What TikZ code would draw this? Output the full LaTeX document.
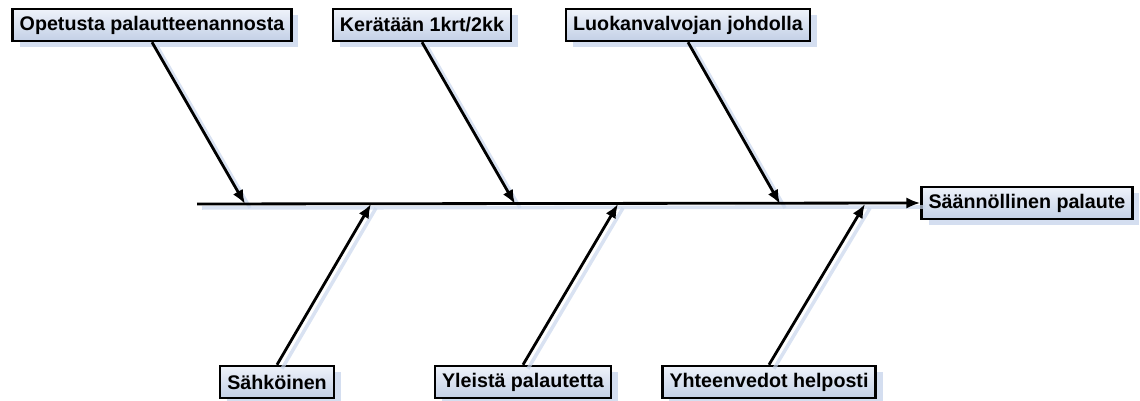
\documentclass[tikz,border=0pt]{standalone}
\usepackage{fontspec}
\setmainfont{Liberation Sans}
\usepackage{tikz}
\usetikzlibrary{arrows.meta,shadows}
\definecolor{boxtop}{HTML}{EEF2FA}
\definecolor{boxbot}{HTML}{C3D0E6}
\definecolor{shadowblue}{HTML}{C9D6EC}

\begin{document}
\begin{tikzpicture}[x=0.02cm,y=-0.02cm]
\tikzset{cause/.style = {draw=black,line width=1.4pt,top color=boxtop,bottom color=boxbot,
  font=\fontsize{11.2}{13}\selectfont\bfseries,inner xsep=4pt,minimum height=0.64cm,
  drop shadow={fill=shadowblue,opacity=0.8,shadow xshift=0.14cm,shadow yshift=-0.12cm}}}
\tikzset{edge/.style = {-{Latex[length=8pt,width=6.5pt]},line width=1.6pt}}
\tikzset{ghost/.style = {line width=2pt,draw=shadowblue,opacity=0.7,transform canvas={shift={(0.1cm,-0.08cm)}}}}
\useasboundingbox (0,0) rectangle (1140,401);

\node[cause] (op) at (152,25) {Opetusta palautteenannosta};
\node[cause] (ke) at (422,25) {Kerätään 1krt/2kk};
\node[cause] (lu) at (688,25) {Luokanvalvojan johdolla};
\node[cause] (sa) at (277,382) {Sähköinen};
\node[cause] (yl) at (523,382) {Yleistä palautetta};
\node[cause] (yh) at (769,382) {Yhteenvedot helposti};
\node[cause] (goal) at (1027,203) {Säännöllinen palaute};

\coordinate (s0) at (197,204);
\coordinate (t1) at (245,204);
\coordinate (t2) at (515,204);
\coordinate (t3) at (780,204);
\coordinate (b1) at (371,204);
\coordinate (b2) at (618,204);
\coordinate (b3) at (865,204);

% shadows under the lines
\draw[ghost] (s0) -- (goal.west);
\draw[ghost] (op.south) -- (t1);
\draw[ghost] (ke.south) -- (t2);
\draw[ghost] (lu.south) -- (t3);
\draw[ghost] (sa.north) -- (b1);
\draw[ghost] (yl.north) -- (b2);
\draw[ghost] (yh.north) -- (b3);

\draw[edge] (s0) -- (goal.west);
\draw[edge] (op.south) -- (t1);
\draw[edge] (ke.south) -- (t2);
\draw[edge] (lu.south) -- (t3);
\draw[edge] (sa.north) -- (b1);
\draw[edge] (yl.north) -- (b2);
\draw[edge] (yh.north) -- (b3);

\end{tikzpicture}
\end{document}
